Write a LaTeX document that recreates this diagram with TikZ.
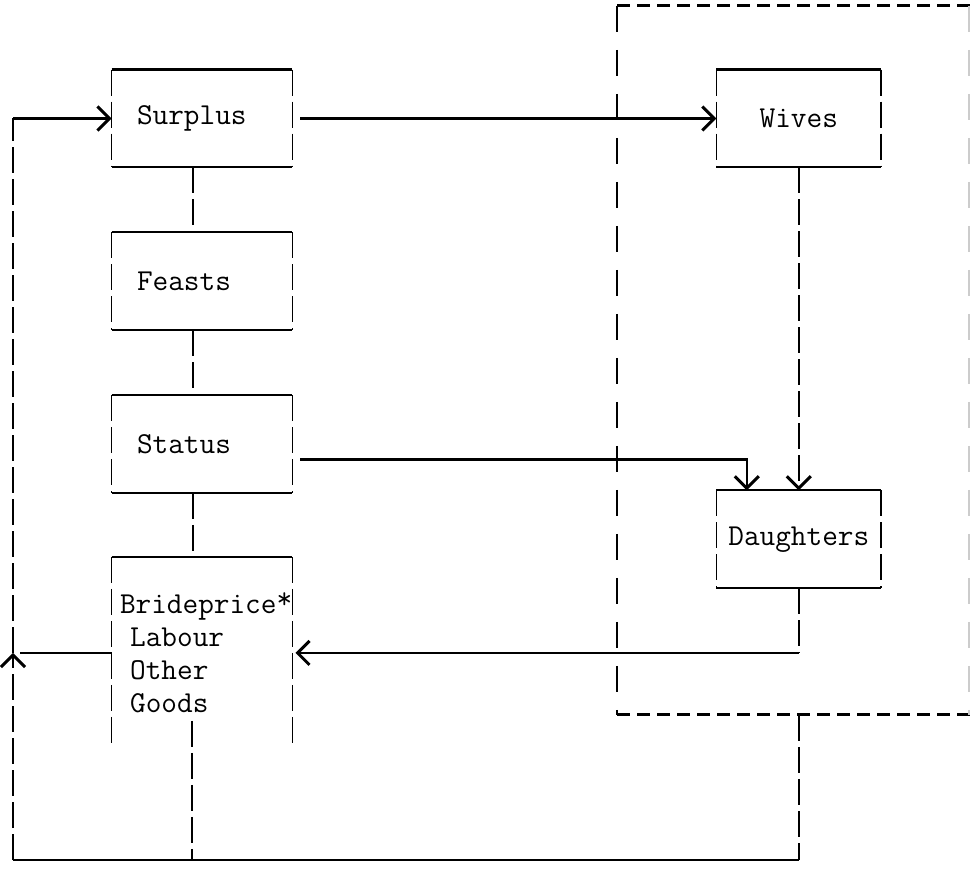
\documentclass[tikz,border=0pt]{standalone}
\usetikzlibrary{positioning,arrows.meta}

\begin{document}
\begin{tikzpicture}[x=0.5pt, y=-0.5pt, node distance=32.5pt and 212pt,
  box/.style={minimum height=48.5pt, inner ysep=0pt, font=\ttfamily\fontsize{15.2}{16.5}\selectfont},
  lbox/.style={box, inner xsep=12.5pt, text width=65pt, align=left},
  cbox/.style={box, minimum width=82pt, inner xsep=0pt, align=center},
  bbox/.style={box, minimum height=95.5pt, inner xsep=4pt, text width=82pt, align=left},
  hline/.style={line width=1.1pt},
  vline/.style={line width=0.8pt, dash pattern=on 13pt off 3pt},
  arrow/.style={-{Straight Barb[length=6pt, width=12pt, line width=1.5pt]}, line width=1.1pt}]
\useasboundingbox (0,0) rectangle (971,877);
% dashed frame
\draw[line width=1.5pt, dash pattern=on 6.5pt off 3.5pt] (617,6) -- (971,6) (617,715) -- (971,715);
\draw[line width=0.8pt, dash pattern=on 13pt off 9pt] (617,6) -- (617,715);
\draw[line width=0.6pt, gray!40, dash pattern=on 13pt off 9pt] (969,6) -- (969,715);
% boxes
\node[lbox] (surplus) at (202,118.5) {Surplus};
\node[lbox, below=of surplus] (feasts) {Feasts};
\node[lbox, below=of feasts] (status) {Status};
\node[bbox, below=32pt of status] (bride) {Brideprice\raisebox{0.35ex}{*}\\\ Labour\\\ Other\\\ Goods};
\node[cbox, right=of surplus] (wives) {Wives};
\node[cbox, below=161.5pt of wives] (daughters) {Daughters};
\foreach \n in {surplus,feasts,status,wives,daughters}{
  \draw[hline] (\n.north west) -- (\n.north east) (\n.south west) -- (\n.south east);
  \draw[vline] (\n.north west) -- (\n.south west) (\n.north east) -- (\n.south east);
}
\draw[hline] (bride.north west) -- (bride.north east);
\draw[vline] (bride.north west) -- (bride.south west) (bride.north east) -- (bride.south east);
% column links
\draw[vline] ([xshift=-4.5pt]surplus.south) -- ([xshift=-4.5pt]feasts.north);
\draw[vline] ([xshift=-4.5pt]feasts.south) -- ([xshift=-4.5pt]status.north);
\draw[vline] ([xshift=-4.5pt]status.south) -- ([xshift=-4.5pt]bride.north);
% loop round the bottom
\coordinate (loopbl) at (13,860);
\coordinate (loopbr) at (daughters.south |- loopbl);
\coordinate (loopjoin) at (loopbl |- bride.west);
\coordinate (looptl) at (loopbl |- surplus.west);
\draw[vline] ([xshift=-5pt, yshift=14pt]bride.south) -- ([xshift=-5pt]bride.south |- loopbl);
\draw[vline] (daughters.south |- 0,715) -- (loopbr);
\draw[hline] (loopbl) -- (loopbr);
\draw[arrow, vline] (loopbl) -- (loopjoin);
\draw[vline] (loopjoin) -- (looptl);
\draw[arrow] (looptl) -- (surplus.west);
\draw[hline] (bride.west) -- ([xshift=3.5pt]loopjoin);
% arrows
\draw[arrow, shorten <=4pt] (surplus) -- (wives);
\draw[arrow, vline] (wives) -- (daughters);
\draw[arrow, shorten <=4pt] ([yshift=-7.75pt]status.east) -| ([xshift=-26pt]daughters.north);
\draw[vline] (daughters) -- (daughters.south |- bride.east);
\draw[arrow, shorten >=1.5pt] (daughters.south |- bride.east) -- (bride.east);
\end{tikzpicture}
\end{document}
